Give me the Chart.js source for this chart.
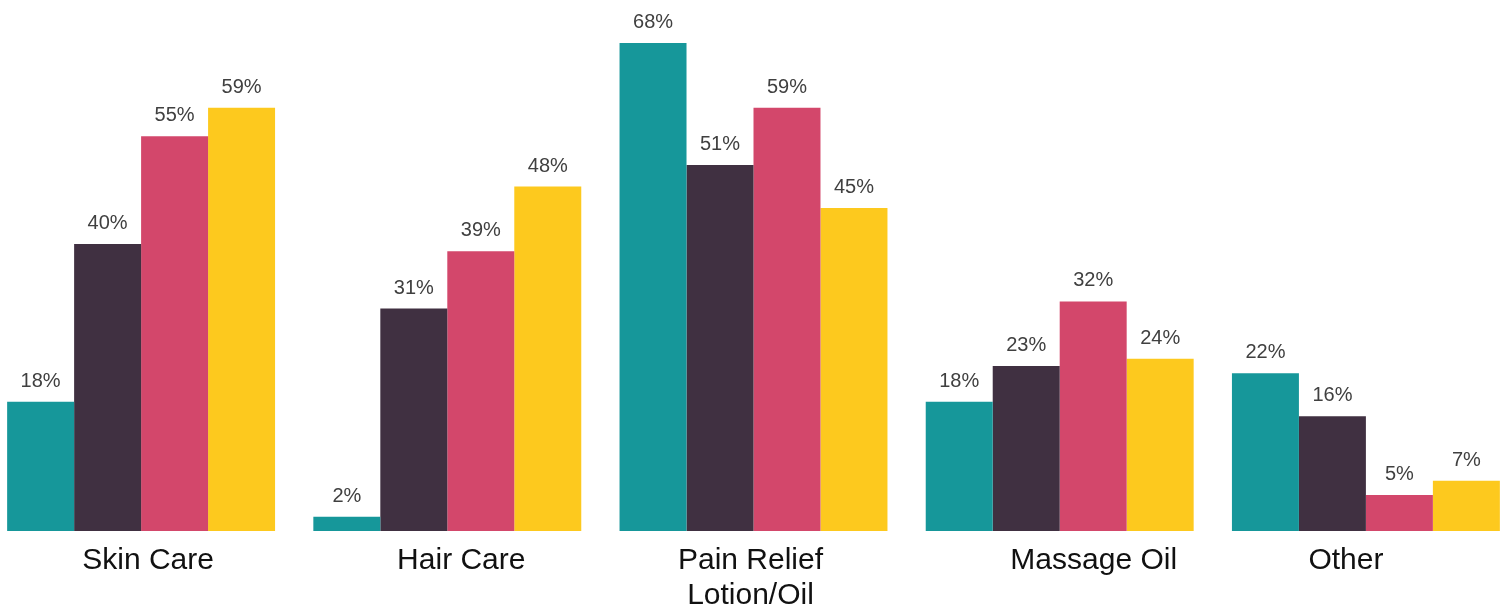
<!DOCTYPE html>
<html>
<head>
<meta charset="utf-8">
<title>Product categories</title>
<script src="https://cdn.jsdelivr.net/npm/chart.js@4.4.1/dist/chart.umd.min.js"></script>
<style>
  html, body { margin: 0; padding: 0; background: #ffffff; overflow: hidden; }
  #wrap { position: absolute; left: -12px; top: 0; width: 1531px; height: 610px; }
</style>
</head>
<body>
<div id="wrap"><canvas id="chart"></canvas></div>
<script>
// Categories and the four series (percent values)
const categories = ['Skin Care', 'Hair Care', ['Pain Relief', 'Lotion/Oil'], 'Massage Oil', 'Other'];
const seriesNames = ['Series 1', 'Series 2', 'Series 3', 'Series 4'];
const series1 = [18, 2, 68, 18, 22];
const series2 = [40, 31, 51, 23, 16];
const series3 = [55, 39, 59, 32, 5];
const series4 = [59, 48, 45, 24, 7];

const colors = ['#16979a', '#403041', '#d3476b', '#fdc91e'];
// horizontal nudge of each category caption
const captionShift = [7, 14, -3, 34, -20];

// value labels above each bar
const valueLabels = {
  id: 'valueLabels',
  afterDatasetsDraw(chart) {
    const ctx = chart.ctx;
    ctx.save();
    ctx.font = '20px "Liberation Sans", Arial, sans-serif';
    ctx.fillStyle = '#404040';
    ctx.textAlign = 'center';
    ctx.textBaseline = 'alphabetic';
    chart.data.datasets.forEach((ds, di) => {
      chart.getDatasetMeta(di).data.forEach((bar, i) => {
        ctx.fillText(ds.data[i] + '%', bar.x, bar.y - 15);
      });
    });
    ctx.restore();
  }
};

// category captions under each group
const categoryCaptions = {
  id: 'categoryCaptions',
  afterDraw(chart) {
    const ctx = chart.ctx;
    const xs = chart.scales.x;
    const base = chart.chartArea.bottom;
    ctx.save();
    ctx.font = '30px "Liberation Sans", Arial, sans-serif';
    ctx.fillStyle = '#111111';
    ctx.textAlign = 'center';
    ctx.textBaseline = 'alphabetic';
    chart.data.labels.forEach((lab, i) => {
      const lines = Array.isArray(lab) ? lab : [lab];
      const x = xs.getPixelForValue(i) + captionShift[i];
      lines.forEach((line, li) => {
        ctx.fillText(line, x, base + 38 + li * 35);
      });
    });
    ctx.restore();
  }
};

const values = [series1, series2, series3, series4];

new Chart(document.getElementById('chart'), {
  type: 'bar',
  data: {
    labels: categories,
    datasets: values.map((d, i) => ({
      label: seriesNames[i],
      data: d,
      backgroundColor: colors[i],
      borderWidth: 0,
      barPercentage: 1.0,
      categoryPercentage: 0.875
    }))
  },
  options: {
    responsive: true,
    maintainAspectRatio: false,
    animation: false,
    layout: { padding: { top: 0, bottom: 79, left: 0, right: 0 } },
    plugins: {
      legend: { display: false },
      tooltip: { enabled: false }
    },
    scales: {
      x: { display: false },
      y: { display: false, min: 0, max: 74 }
    }
  },
  plugins: [valueLabels, categoryCaptions]
});
</script>
</body>
</html>
